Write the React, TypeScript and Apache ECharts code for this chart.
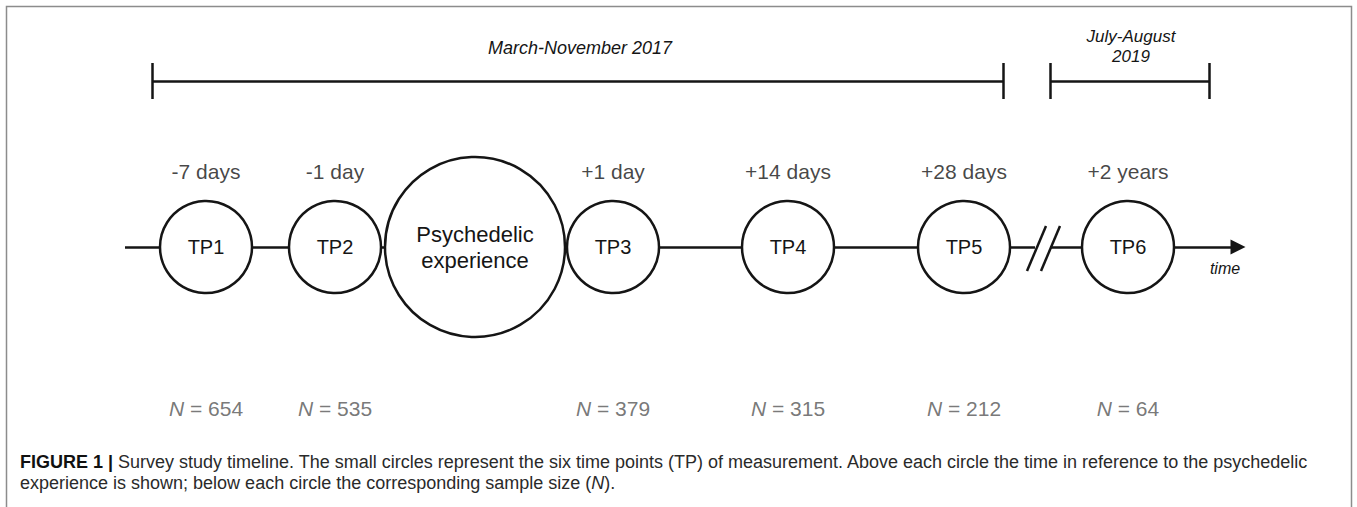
import React, { useEffect, useRef } from "react";
import * as echarts from "echarts";

// ---- data ----
const timepoints = ["TP1", "TP2", "Psychedelic\nexperience", "TP3", "TP4", "TP5", "TP6"];
const offsets = ["-7 days", "-1 day", "", "+1 day", "+14 days", "+28 days", "+2 years"];
const sampleSizes = [654, 535, null, 379, 315, 212, 64];
const periods = ["March-November 2017", "July-August\n2019"];
const captionLine1 =
  "Survey study timeline. The small circles represent the six time points (TP) of measurement. Above each circle the time in reference to the psychedelic";
const captionLine2 = "experience is shown; below each circle the corresponding sample size (";

// ---- layout (diagram units = pixels) ----
const nodeX = [206, 335, 475, 613, 788, 964, 1128];
const nodeSize = [92, 92, 180, 92, 92, 92, 92];
const lineY = 247;
const offsetY = 171;
const nY = 408;
const bracketY = 81;
const brackets = [
  [152, 1003],
  [1050, 1209],
];
const timelineStart = 125;
const breakGap = [1035, 1050];
const arrowEnd = 1238;

const FONT = "'Liberation Sans', Arial, Helvetica, sans-serif";
const INK = "#151515";

export default function App() {
  const ref = useRef<HTMLDivElement>(null);

  useEffect(() => {
    if (!ref.current) return;
    const chart = echarts.init(ref.current, null, { renderer: "svg" });

    const seg = (x1: number, y1: number, x2: number, y2: number) => [
      { coord: [x1, y1] },
      { coord: [x2, y2] },
    ];

    const lines: any[] = [];
    // timeline segments between the circles
    const left = (i: number) => nodeX[i] - nodeSize[i] / 2;
    const right = (i: number) => nodeX[i] + nodeSize[i] / 2;
    lines.push(seg(timelineStart, lineY, left(0), lineY));
    for (let i = 0; i < nodeX.length - 1; i++) {
      const a = right(i);
      const b = left(i + 1);
      if (a < breakGap[0] && b > breakGap[1]) {
        lines.push(seg(a, lineY, breakGap[0], lineY));
        lines.push(seg(breakGap[1], lineY, b, lineY));
      } else if (b > a) {
        lines.push(seg(a, lineY, b, lineY));
      }
    }
    lines.push([
      { coord: [right(nodeX.length - 1), lineY] },
      { coord: [arrowEnd, lineY], symbol: "triangle", symbolSize: [15, 15] },
    ]);
    // break marks
    lines.push(seg(1027, 271, 1046, 226));
    lines.push(seg(1041, 271, 1060, 226));
    // period brackets
    brackets.forEach(([a, b]) => {
      lines.push(seg(a, bracketY, b, bracketY));
      lines.push(seg(a, bracketY - 18, a, bracketY + 18));
      lines.push(seg(b, bracketY - 18, b, bracketY + 18));
    });

    const option: any = {
      animation: false,
      grid: { left: 0, right: 0, top: 0, bottom: 0 },
      xAxis: { type: "value", min: 0, max: 1357, show: false },
      yAxis: { type: "value", min: 0, max: 507, inverse: true, show: false },
      series: [
        {
          type: "scatter",
          data: [],
          silent: true,
          z: 1,
          markLine: {
            silent: true,
            animation: false,
            symbol: ["none", "none"],
            lineStyle: { color: INK, width: 2.5, type: "solid" },
            label: { show: false },
            emphasis: { disabled: true },
            data: lines,
          },
        },
        {
          type: "scatter",
          silent: true,
          z: 3,
          symbol: "circle",
          itemStyle: { color: "#ffffff", borderColor: INK, borderWidth: 2.5, opacity: 1 },
          label: {
            show: true,
            position: "inside",
            formatter: (p: any) => p.name,
            fontFamily: FONT,
            fontSize: 20,
            color: INK,
          },
          data: timepoints.map((t, i) => ({
            name: t,
            value: [nodeX[i], lineY],
            symbolSize: nodeSize[i],
            label: i === 2 ? { fontSize: 22, lineHeight: 26 } : undefined,
          })),
        },
        {
          type: "scatter",
          silent: true,
          symbolSize: 0,
          label: {
            show: true,
            position: "inside",
            formatter: (p: any) => p.name,
            fontFamily: FONT,
            fontSize: 21,
            color: INK,
          },
          data: offsets
            .map((o, i) => ({ name: o, value: [nodeX[i], offsetY] }))
            .filter((d) => d.name !== ""),
        },
        {
          type: "scatter",
          silent: true,
          symbolSize: 0,
          label: {
            show: true,
            position: "inside",
            formatter: (p: any) => `{i|N} = ${p.data.n}`,
            fontFamily: FONT,
            fontSize: 21,
            color: "#555555",
            rich: { i: { fontStyle: "italic", fontFamily: FONT, fontSize: 21, color: "#555555" } },
          },
          data: sampleSizes
            .map((n, i) => ({ n, value: [nodeX[i], nY] }))
            .filter((d) => d.n !== null),
        },
      ],
      graphic: [
        {
          type: "rect",
          silent: true,
          shape: { x: 6.5, y: 6.5, width: 1345, height: 530 },
          style: { fill: "none", stroke: "#8c8c8c", lineWidth: 1.5 },
        },
        {
          type: "text",
          silent: true,
          x: 580,
          y: 48,
          style: {
            text: periods[0],
            font: `italic 18px ${FONT}`,
            fill: INK,
            align: "center",
            verticalAlign: "middle",
          },
        },
        {
          type: "text",
          silent: true,
          x: 1131,
          y: 46,
          style: {
            text: periods[1],
            font: `italic 17px ${FONT}`,
            lineHeight: 20,
            fill: INK,
            align: "center",
            verticalAlign: "middle",
          },
        },
        {
          type: "text",
          silent: true,
          x: 1225,
          y: 268,
          style: {
            text: "time",
            font: `italic 16px ${FONT}`,
            fill: INK,
            align: "center",
            verticalAlign: "middle",
          },
        },
        {
          type: "text",
          silent: true,
          x: 20,
          y: 451,
          style: {
            text: `{b|FIGURE 1 |} ${captionLine1}\n${captionLine2}{i|N}).`,
            font: `18px ${FONT}`,
            fontFamily: FONT,
            fontSize: 18,
            lineHeight: 21,
            fill: "#2a2a2a",
            align: "left",
            verticalAlign: "top",
            rich: {
              b: { fontWeight: "bold", fontFamily: FONT, fontSize: 18, fill: "#111", lineHeight: 21 },
              i: { fontStyle: "italic", fontFamily: FONT, fontSize: 18, fill: "#2a2a2a", lineHeight: 21 },
            },
          },
        },
      ],
    };

    chart.setOption(option);
    return () => chart.dispose();
  }, []);

  return (
    <div
      ref={ref}
      style={{ position: "fixed", left: 0, top: 0, width: 1357, height: 507, background: "#fff" }}
    />
  );
}
